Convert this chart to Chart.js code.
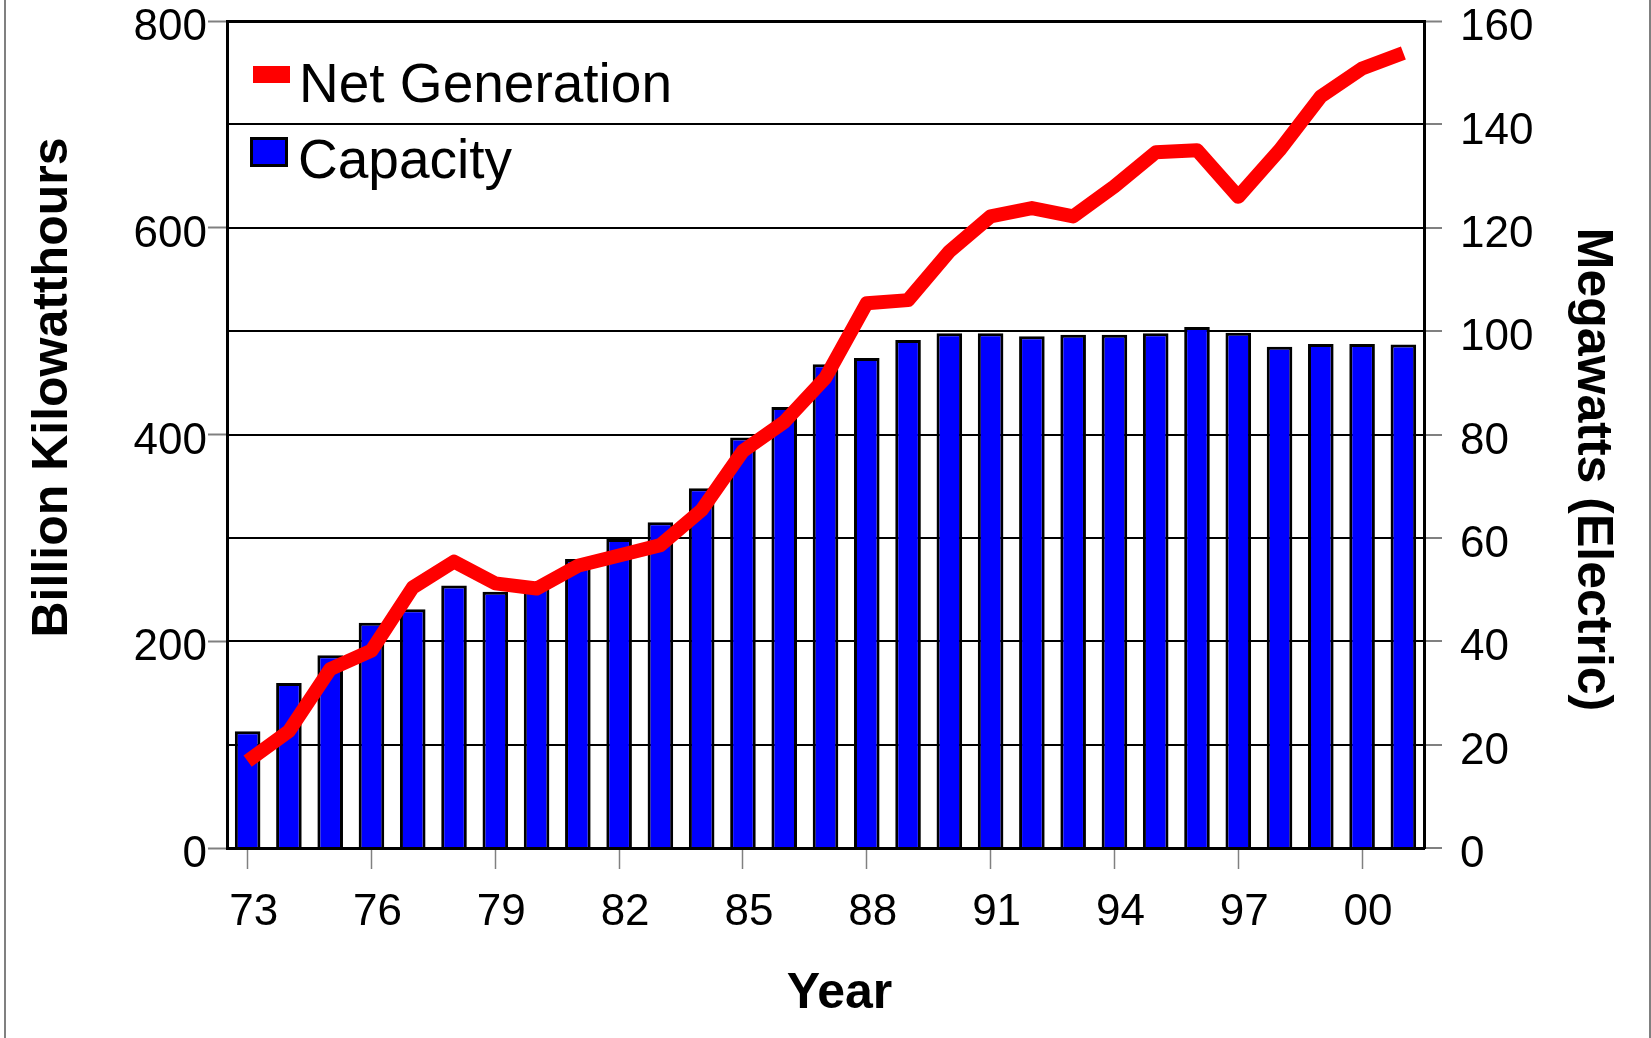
<!DOCTYPE html>
<html>
<head>
<meta charset="utf-8">
<title>Nuclear Net Generation and Capacity</title>
<script src="https://cdn.jsdelivr.net/npm/chart.js@4.4.1/dist/chart.umd.min.js"></script>
<style>
  html, body { margin: 0; padding: 0; background: #ffffff; }
  canvas { display: block; }
</style>
</head>
<body>
<canvas id="chart" width="1651" height="1038"></canvas>
<script>
// Years 1973-2001, two-digit labels
const years = ['73','74','75','76','77','78','79','80','81','82','83','84','85','86','87',
               '88','89','90','91','92','93','94','95','96','97','98','99','00','01'];
// Years that carry a tick mark and label on the x axis
const labeledYears = ['73','76','79','82','85','88','91','94','97','00'];

// Net generation, billion kilowatthours (left axis)
const netGeneration = [84, 113, 173, 191, 252, 277, 256, 251, 273, 283, 293, 327, 384, 412, 455,
                       527, 530, 577, 611, 619, 611, 640, 673, 675, 630, 675, 727, 754, 769];
// Capacity, megawatts electric in thousands (right axis)
const capacity = [22.6, 31.9, 37.3, 43.6, 46.2, 50.8, 49.6, 51.5, 55.9, 59.8, 63.0, 69.6, 79.4, 85.3, 93.6,
                  94.8, 98.3, 99.6, 99.6, 99.0, 99.3, 99.3, 99.6, 100.8, 99.7, 97.0, 97.5, 97.5, 97.4];

// Axis ranges and steps
const leftAxis = { min: 0, max: 800, step: 200 };
const rightAxis = { min: 0, max: 160, step: 20 };

// Axis titles
const xTitle = 'Year';
const leftTitle = 'Billion Kilowatthours';
const rightTitle = 'Megawatts (Electric)';

const FONT = "'Liberation Sans', Arial, Helvetica, sans-serif";
const TITLE_FONT = `bold 50px ${FONT}`;

// Legend drawn inside the plot, top-left
const insideLegend = {
  id: 'insideLegend',
  afterDatasetsDraw(chart) {
    const { ctx, chartArea } = chart;
    const ds = chart.data.datasets;
    const x0 = chartArea.left;
    const y0 = chartArea.top;
    ctx.save();
    ctx.font = `55px ${FONT}`;
    ctx.textBaseline = 'alphabetic';
    ctx.textAlign = 'left';

    // line series swatch
    ctx.fillStyle = ds[0].borderColor;
    ctx.fillRect(x0 + 26, y0 + 45, 37, 17);
    ctx.fillStyle = '#000';
    ctx.fillText(ds[0].label, x0 + 72, y0 + 81);

    // bar series swatch
    ctx.fillStyle = ds[1].backgroundColor;
    ctx.fillRect(x0 + 23, y0 + 116, 38, 30);
    ctx.lineWidth = 3;
    ctx.strokeStyle = '#000';
    ctx.strokeRect(x0 + 24.5, y0 + 117.5, 35, 27);
    ctx.fillStyle = '#000';
    ctx.fillText(ds[1].label, x0 + 71, y0 + 157);
    ctx.restore();
  }
};

// Axis titles placed around the plot area
const axisTitles = {
  id: 'axisTitles',
  afterDraw(chart) {
    const { ctx, chartArea, width } = chart;
    ctx.save();
    ctx.font = TITLE_FONT;
    ctx.fillStyle = '#000';
    ctx.textAlign = 'center';
    ctx.textBaseline = 'middle';

    // bottom
    ctx.fillText(xTitle, chartArea.left + chartArea.width / 2 + 14, chartArea.bottom + 146);

    // left, reading upwards
    ctx.save();
    ctx.translate(53, chartArea.top + chartArea.height / 2 - 47);
    ctx.rotate(-Math.PI / 2);
    ctx.fillText(leftTitle, 0, 0);
    ctx.restore();

    // right, reading downwards
    ctx.save();
    ctx.translate(width - 59, chartArea.top + chartArea.height / 2 + 35);
    ctx.rotate(Math.PI / 2);
    ctx.fillText(rightTitle, 0, 0);
    ctx.restore();

    ctx.restore();
  }
};

// Thin grey frame lines at the page edges
const pageFrame = {
  id: 'pageFrame',
  beforeDraw(chart) {
    const { ctx, width, height } = chart;
    ctx.save();
    ctx.fillStyle = '#ffffff';
    ctx.fillRect(0, 0, width, height);
    ctx.fillStyle = '#808080';
    ctx.fillRect(4, 0, 2, height);
    ctx.fillRect(width - 2, 0, 2, height);
    ctx.restore();
  }
};

function fixWidth(w) {
  return (scale) => {
    scale.width = w;
    scale.paddingTop = 0;
    scale.paddingBottom = 0;
  };
}

new Chart(document.getElementById('chart'), {
  type: 'bar',
  data: {
    labels: years,
    datasets: [
      {
        type: 'line',
        label: 'Net Generation',
        data: netGeneration,
        yAxisID: 'y',
        borderColor: '#ff0000',
        backgroundColor: '#ff0000',
        borderWidth: 14,
        borderJoinStyle: 'round',
        pointRadius: 0,
        pointHoverRadius: 0,
        tension: 0,
        fill: false,
        order: 0
      },
      {
        type: 'bar',
        label: 'Capacity',
        data: capacity,
        yAxisID: 'y1',
        backgroundColor: '#0000ff',
        borderColor: '#000000',
        borderWidth: 3,
        categoryPercentage: 1.0,
        barPercentage: 0.62,
        order: 1
      }
    ]
  },
  options: {
    responsive: false,
    animation: false,
    devicePixelRatio: 1,
    layout: { padding: { top: 21, left: 0, right: 0, bottom: 0 } },
    plugins: {
      legend: { display: false },
      tooltip: { enabled: false }
    },
    scales: {
      x: {
        type: 'category',
        offset: true,
        afterBuildTicks(scale) {
          scale.ticks = scale.ticks.filter(t => labeledYears.includes(years[t.value]));
        },
        afterFit(scale) {
          scale.height = 1038 - 848;
          scale.paddingLeft = 0;
          scale.paddingRight = 0;
        },
        grid: {
          offset: false,
          drawOnChartArea: false,
          drawTicks: true,
          tickLength: 21,
          tickColor: '#808080',
          tickWidth: 1.5
        },
        border: { display: true, color: '#000', width: 3 },
        ticks: {
          autoSkip: false,
          maxRotation: 0,
          minRotation: 0,
          padding: 17,
          labelOffset: 6,
          color: '#000',
          font: { family: FONT, size: 44 }
        },
        title: { display: false, text: xTitle }
      },
      y: {
        position: 'left',
        min: leftAxis.min,
        max: leftAxis.max,
        afterFit: fixWidth(227),
        grid: {
          drawOnChartArea: false,
          tickLength: 19,
          tickColor: '#808080',
          tickWidth: 2
        },
        border: { display: true, color: '#000', width: 3 },
        ticks: {
          stepSize: leftAxis.step,
          padding: 1,
          labelOffset: 7,
          color: '#000',
          font: { family: FONT, size: 44 }
        },
        title: { display: false, text: leftTitle }
      },
      y1: {
        position: 'right',
        min: rightAxis.min,
        max: rightAxis.max,
        afterFit: fixWidth(227),
        grid: {
          drawOnChartArea: true,
          color: '#000',
          lineWidth: (c) => (c.tick && c.tick.value === rightAxis.max ? 3 : 2),
          tickLength: 18,
          tickColor: '#808080',
          tickWidth: 2
        },
        border: { display: true, color: '#000', width: 3 },
        ticks: {
          stepSize: rightAxis.step,
          padding: 18,
          labelOffset: 7,
          color: '#000',
          font: { family: FONT, size: 44 }
        },
        title: { display: false, text: rightTitle }
      }
    }
  },
  plugins: [pageFrame, insideLegend, axisTitles]
});
</script>
</body>
</html>
